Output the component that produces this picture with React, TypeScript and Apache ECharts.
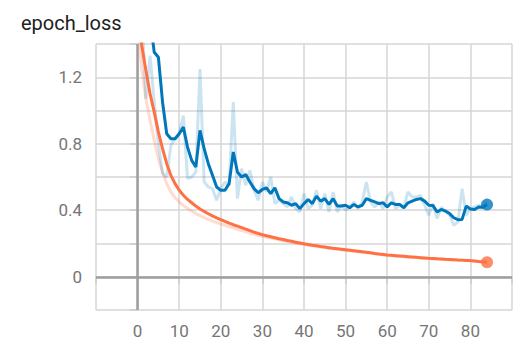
import React, { useEffect, useRef } from "react";
import * as echarts from "echarts";

const epochs: number[] = Array.from({ length: 85 }, (_, i) => i);

const trainSmoothed: number[] = [
  1.62, 1.39, 1.24, 1.1, 0.99, 0.87, 0.77, 0.68, 0.61, 0.56,
  0.52, 0.49, 0.465, 0.445, 0.425, 0.408, 0.393, 0.379, 0.366, 0.354,
  0.343, 0.333, 0.323, 0.313, 0.304, 0.295, 0.286, 0.277, 0.268, 0.26,
  0.253, 0.247, 0.241, 0.235, 0.229, 0.224, 0.218, 0.213, 0.208, 0.203,
  0.198, 0.194, 0.19, 0.186, 0.182, 0.179, 0.175, 0.171, 0.168, 0.165,
  0.162, 0.159, 0.156, 0.153, 0.15, 0.147, 0.144, 0.14, 0.137, 0.134,
  0.131, 0.129, 0.127, 0.125, 0.123, 0.121, 0.119, 0.117, 0.115, 0.113,
  0.111, 0.11, 0.108, 0.107, 0.105, 0.104, 0.103, 0.101, 0.1, 0.098,
  0.097, 0.095, 0.092, 0.09, 0.087,
];

const trainRaw: number[] = [
  1.5, 1.25, 1.07, 0.94, 0.82, 0.71, 0.63, 0.56, 0.51, 0.475,
  0.45, 0.428, 0.41, 0.395, 0.38, 0.368, 0.356, 0.345, 0.335, 0.326,
  0.318, 0.31, 0.302, 0.294, 0.286, 0.278, 0.27, 0.262, 0.255, 0.249,
  0.243, 0.238, 0.233, 0.228, 0.222, 0.217, 0.212, 0.207, 0.202, 0.198,
  0.194, 0.19, 0.186, 0.182, 0.179, 0.175, 0.172, 0.168, 0.165, 0.162,
  0.159, 0.156, 0.153, 0.15, 0.147, 0.144, 0.141, 0.138, 0.135, 0.132,
  0.129, 0.127, 0.125, 0.123, 0.121, 0.119, 0.117, 0.115, 0.113, 0.111,
  0.11, 0.108, 0.107, 0.105, 0.104, 0.102, 0.101, 0.1, 0.098, 0.097,
  0.095, 0.093, 0.091, 0.089, 0.086,
];

const valSmoothed: number[] = [
  2.2, 1.95, 1.72, 1.55, 1.35, 1.32, 1.05, 0.86, 0.83, 0.83,
  0.86, 0.9, 0.78, 0.7, 0.66, 0.88, 0.77, 0.68, 0.61, 0.54,
  0.52, 0.52, 0.56, 0.75, 0.63, 0.6, 0.615, 0.57, 0.53, 0.505,
  0.525, 0.535, 0.5, 0.535, 0.47, 0.45, 0.445, 0.43, 0.44, 0.41,
  0.44, 0.465, 0.44, 0.485, 0.455, 0.47, 0.435, 0.47, 0.425, 0.425,
  0.43, 0.415, 0.435, 0.42, 0.43, 0.47, 0.46, 0.45, 0.44, 0.445,
  0.42, 0.445, 0.435, 0.435, 0.415, 0.445, 0.455, 0.465, 0.47, 0.455,
  0.43, 0.428, 0.39, 0.405, 0.395, 0.38, 0.355, 0.343, 0.345, 0.425,
  0.408, 0.405, 0.42, 0.418, 0.434,
];

const valRaw: number[] = [
  2.3, 1.6, 1.07, 1.33, 1.05, 0.8, 0.62, 0.6, 0.79, 0.83,
  0.86, 0.97, 0.59, 0.6, 0.63, 1.25, 0.57, 0.54, 0.53, 0.46,
  0.53, 0.57, 0.55, 1.05, 0.47, 0.65, 0.55, 0.64, 0.52, 0.46,
  0.57, 0.51, 0.6, 0.44, 0.46, 0.44, 0.42, 0.48, 0.41, 0.39,
  0.5, 0.41, 0.43, 0.52, 0.41, 0.5, 0.39, 0.51, 0.39, 0.43,
  0.4, 0.42, 0.45, 0.41, 0.45, 0.57, 0.45, 0.42, 0.45, 0.41,
  0.48, 0.51, 0.41, 0.43, 0.42, 0.51, 0.48, 0.48, 0.49, 0.43,
  0.37, 0.44, 0.35, 0.42, 0.39, 0.37, 0.31, 0.33, 0.53, 0.37,
  0.41, 0.42, 0.43, 0.42, 0.45,
];

const xTickLabels: number[] = [0, 10, 20, 30, 40, 50, 60, 70, 80];
const yTickLabels: number[] = [0, 0.4, 0.8, 1.2];

const ORANGE = "#ff7043";
const BLUE = "#0077bb";

const pair = (ys: number[]) => epochs.map((x, i) => [x, ys[i]]);

export default function App() {
  const ref = useRef<HTMLDivElement>(null);
  useEffect(() => {
    if (!ref.current) return;
    const chart = echarts.init(ref.current, undefined, { renderer: "svg" });
    const last = epochs.length - 1;
    const font = "Roboto, 'Noto Sans', sans-serif";
    chart.setOption({
      animation: false,
      backgroundColor: "#ffffff",
      title: {
        text: "epoch_loss",
        left: 16,
        top: 8,
        textStyle: { fontSize: 20, fontWeight: "normal", color: "#212121", fontFamily: font },
      },
      grid: { left: 96, right: 18, top: 44, bottom: 44, containLabel: false },
      xAxis: {
        type: "value",
        min: -10,
        max: 90,
        interval: 10,
        axisLine: { show: false },
        axisTick: { show: true, length: 7, lineStyle: { color: "#cccccc", width: 1.5 } },
        splitLine: { show: true, lineStyle: { color: "#d6d6d6", width: 1.5 } },
        axisLabel: {
          color: "#757575",
          fontSize: 17,
          fontFamily: font,
          margin: 12,
          formatter: (v: number) => (xTickLabels.includes(v) ? String(v) : ""),
        },
      },
      yAxis: {
        type: "value",
        min: -0.2,
        max: 1.4,
        interval: 0.2,
        axisLine: { show: false },
        axisTick: { show: true, length: 8, lineStyle: { color: "#cccccc", width: 1.5 } },
        splitLine: { show: true, lineStyle: { color: "#d6d6d6", width: 1.5 } },
        axisLabel: {
          color: "#757575",
          fontSize: 17,
          fontFamily: font,
          margin: 14,
          formatter: (v: number) => {
            const hit = yTickLabels.find((t) => Math.abs(t - v) < 1e-6);
            return hit === undefined ? "" : String(hit);
          },
        },
      },
      series: [
        {
          type: "line",
          data: [],
          z: 1,
          markLine: {
            silent: true,
            symbol: "none",
            label: { show: false },
            lineStyle: { color: "#9e9e9e", width: 2.5, type: "solid" },
            data: [{ xAxis: 0 }, { yAxis: 0 }],
          },
        },
        {
          type: "line",
          data: pair(trainRaw),
          showSymbol: false,
          z: 2,
          lineStyle: { color: ORANGE, width: 3, opacity: 0.25 },
        },
        {
          type: "line",
          data: pair(valRaw),
          showSymbol: false,
          z: 2,
          lineStyle: { color: BLUE, width: 3, opacity: 0.2 },
        },
        {
          type: "line",
          data: pair(trainSmoothed),
          showSymbol: false,
          z: 3,
          lineStyle: { color: ORANGE, width: 3 },
        },
        {
          type: "line",
          data: pair(valSmoothed),
          showSymbol: false,
          z: 3,
          lineStyle: { color: BLUE, width: 3 },
        },
        {
          type: "scatter",
          z: 4,
          symbolSize: 12,
          itemStyle: { color: ORANGE },
          data: [[epochs[last], trainSmoothed[last]]],
        },
        {
          type: "scatter",
          z: 4,
          symbolSize: 12,
          itemStyle: { color: BLUE },
          data: [[epochs[last], valSmoothed[last]]],
        },
      ],
    });
    return () => chart.dispose();
  }, []);
  return (
    <div
      ref={ref}
      style={{ position: "fixed", left: 0, top: 0, width: 530, height: 354 }}
    />
  );
}
